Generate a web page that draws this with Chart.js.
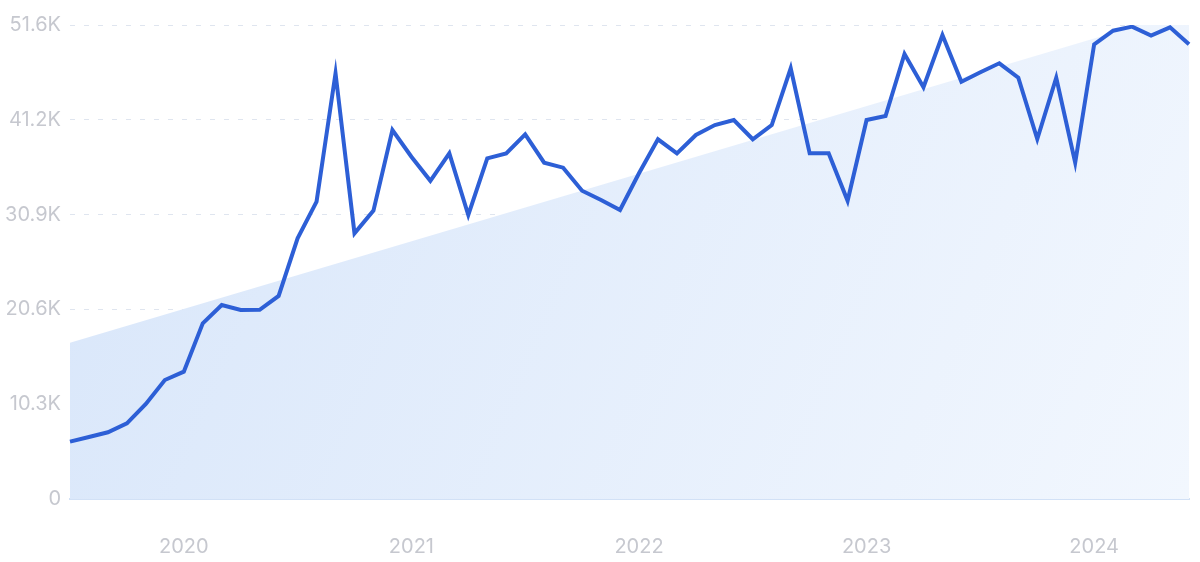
<!DOCTYPE html>
<html>
<head>
<meta charset="utf-8">
<script src="https://cdn.jsdelivr.net/npm/chart.js@4.4.1/dist/chart.umd.min.js"></script>
<style>
  html, body { margin: 0; padding: 0; background: #fff; }
  #wrap { width: 1200px; height: 562px; position: relative; }
</style>
</head>
<body>
<div id="wrap"><canvas id="trendChart"></canvas></div>
<script>
// monthly categories, Jul 2019 - Jun 2024
const months = [
    'Jul 2019', 'Aug 2019', 'Sep 2019', 'Oct 2019', 'Nov 2019', 'Dec 2019',
    'Jan 2020', 'Feb 2020', 'Mar 2020', 'Apr 2020', 'May 2020', 'Jun 2020',
    'Jul 2020', 'Aug 2020', 'Sep 2020', 'Oct 2020', 'Nov 2020', 'Dec 2020',
    'Jan 2021', 'Feb 2021', 'Mar 2021', 'Apr 2021', 'May 2021', 'Jun 2021',
    'Jul 2021', 'Aug 2021', 'Sep 2021', 'Oct 2021', 'Nov 2021', 'Dec 2021',
    'Jan 2022', 'Feb 2022', 'Mar 2022', 'Apr 2022', 'May 2022', 'Jun 2022',
    'Jul 2022', 'Aug 2022', 'Sep 2022', 'Oct 2022', 'Nov 2022', 'Dec 2022',
    'Jan 2023', 'Feb 2023', 'Mar 2023', 'Apr 2023', 'May 2023', 'Jun 2023',
    'Jul 2023', 'Aug 2023', 'Sep 2023', 'Oct 2023', 'Nov 2023', 'Dec 2023',
    'Jan 2024', 'Feb 2024', 'Mar 2024', 'Apr 2024', 'May 2024', 'Jun 2024'
];

const searchVolume = [
    6240, 6750, 7260, 8240, 10340, 12950,
    13860, 19130, 21120, 20570, 20600, 22100,
    28380, 32370, 46340, 28920, 31390, 40170,
    37260, 34640, 37630, 30920, 37090, 37630,
    39700, 36610, 36070, 33560, 32550, 31460,
    35460, 39160, 37630, 39630, 40710, 41260,
    39160, 40710, 46890, 37630, 37630, 32460,
    41260, 41690, 48440, 44820, 50510, 45430,
    46450, 47430, 45860, 39190, 45860, 36610,
    49500, 50980, 51420, 50440, 51350, 49500
];

// trend line: first and last month only
const trendPoints = [
    { x: 'Jul 2019', y: 17000 },
    { x: 'Jun 2024', y: 53200 }
];

const yTickLabels = ['0', '10.3K', '20.6K', '30.9K', '41.2K', '51.6K'];
const yMax = 51600;
const yStep = 10320;

Chart.defaults.font.family = 'Inter, "Noto Sans", sans-serif';
Chart.defaults.font.size = 20;
Chart.defaults.color = '#c6c8cf';

function trendFill(context) {
    const chart = context.chart;
    const area = chart.chartArea;
    if (!area) return 'rgba(220, 233, 250, 1)';
    const g = chart.ctx.createLinearGradient(area.left, area.top, area.right, area.bottom);
    g.addColorStop(0, '#d8e6fa');
    g.addColorStop(1, '#f2f7fe');
    return g;
}

const ctx = document.getElementById('trendChart').getContext('2d');
new Chart(ctx, {
    type: 'line',
    data: {
        labels: months,
        datasets: [
            {
                label: 'Volume',
                data: searchVolume,
                borderColor: '#2d5fd6',
                borderWidth: 4,
                pointRadius: 0,
                tension: 0,
                fill: false
            },
            {
                label: 'Trend',
                data: trendPoints,
                borderWidth: 0,
                borderColor: 'rgba(0,0,0,0)',
                backgroundColor: trendFill,
                pointRadius: 0,
                fill: 'origin'
            }
        ]
    },
    options: {
        responsive: true,
        maintainAspectRatio: false,
        animation: false,
        layout: {
            padding: { top: 25, right: 11, left: 0, bottom: 0 }
        },
        plugins: {
            legend: { display: false },
            tooltip: { enabled: false }
        },
        scales: {
            x: {
                offset: false,
                grid: { display: true, drawOnChartArea: false, drawTicks: false },
                border: { display: true, color: '#d2e1f6', width: 2 },
                ticks: {
                    autoSkip: false,
                    maxRotation: 0,
                    padding: 36,
                    callback: function (val, idx) {
                        const m = months[idx];
                        return m.startsWith('Jan') ? m.slice(4) : '';
                    }
                },
                afterFit: function (scale) {
                    scale.height = 63;
                    scale.paddingLeft = 0;
                    scale.paddingRight = 0;
                }
            },
            y: {
                min: 0,
                max: yMax,
                grid: {
                    color: '#dfe5ef',
                    lineWidth: 1,
                    drawTicks: false
                },
                border: { display: false, dash: [5, 9] },
                ticks: {
                    stepSize: yStep,
                    padding: 9,
                    callback: function (val, idx) {
                        return yTickLabels[idx];
                    }
                },
                afterFit: function (scale) { scale.width = 70; }
            }
        }
    }
});
</script>
</body>
</html>
